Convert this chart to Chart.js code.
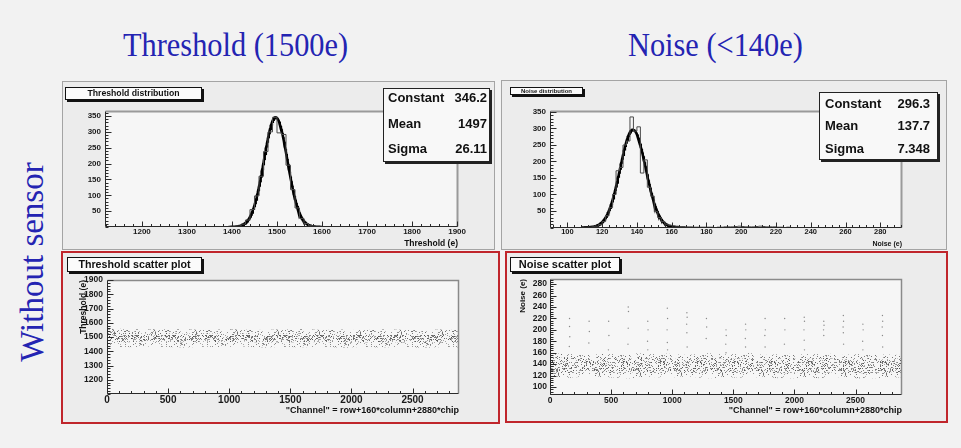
<!DOCTYPE html>
<html>
<head>
<meta charset="utf-8">
<script src="https://cdn.jsdelivr.net/npm/chart.js@4/dist/chart.umd.min.js"></script>
<style>
  html, body { margin: 0; padding: 0; }
  body { width: 961px; height: 448px; position: relative; overflow: hidden;
         background: #f2f2f2; font-family: "Liberation Sans", Arial, sans-serif; }
  .heading { position: absolute; font-family: "Liberation Serif", "Times New Roman", serif;
             color: #2424b2; font-size: 33px; line-height: 33px; white-space: nowrap;
             transform-origin: left top; transform: scaleX(0.92); }
  .side { position: absolute; left: 32px; top: 262px; font-family: "Liberation Serif", "Times New Roman", serif;
          color: #2424b2; font-size: 33px; line-height: 33px; white-space: nowrap;
          transform: translate(-50%, -50%) rotate(-90deg); }
  .panel { position: absolute; box-sizing: border-box; background: #ececec; }
  canvas { position: absolute; }
  .tag { position: absolute; box-sizing: border-box; background: #fbfbfb; border: 1px solid #111;
         box-shadow: 2px 2px 0 #111; font-weight: bold; text-align: center; color: #111; white-space: nowrap; }
  .stats { position: absolute; box-sizing: border-box; background: #f8f8f8; border: 1px solid #222;
           box-shadow: 2px 2px 0 #222; font-weight: bold; font-size: 13px; color: #111; }
  .stats div { position: absolute; left: 0; right: 0; height: 14px; line-height: 14px; }
  .stats span.v { position: absolute; }
</style>
</head>
<body>

<div class="heading" style="left:123px;top:29px">Threshold (1500e)</div>
<div class="heading" style="left:628px;top:29px">Noise (&lt;140e)</div>
<div class="side">Without sensor</div>

<div class="panel" style="left:62px;top:81px;width:433px;height:169px;border:1px solid #a4a4a4"></div>
<div class="panel" style="left:501px;top:80px;width:446px;height:170px;border:1px solid #a4a4a4"></div>
<div class="panel" style="left:61px;top:251px;width:439px;height:173px;border:2px solid #c0262c"></div>
<div class="panel" style="left:505px;top:251px;width:443px;height:172px;border:2px solid #c0262c"></div>

<canvas id="thrHist" width="420" height="168" style="left:62px;top:82px"></canvas>
<canvas id="noiseHist" width="444" height="168" style="left:503px;top:82px"></canvas>
<canvas id="thrScatter" width="436" height="168" style="left:63px;top:253px"></canvas>
<canvas id="noiseScatter" width="440" height="168" style="left:507px;top:253px"></canvas>

<div class="tag" style="left:65px;top:87px;width:137px;height:13px;font-size:8.7px;line-height:11px">Threshold distribution</div>
<div class="tag" style="left:510px;top:87px;width:73px;height:8px;font-size:6px;line-height:6px">Noise distribution</div>
<div class="tag" style="left:67px;top:257px;width:135px;height:15px;font-size:10.7px;line-height:13px">Threshold scatter plot</div>
<div class="tag" style="left:510px;top:257px;width:110px;height:15px;font-size:11px;line-height:13px">Noise scatter plot</div>

<div class="stats" id="thrStats" style="left:383px;top:88px;width:107px;height:74px"></div>
<div class="stats" id="noiseStats" style="left:819px;top:92px;width:119px;height:68px"></div>

<script>
// ---------- Threshold distribution (10 e bins starting at 1400 e) ----------
const thrBinStart = 1400;
const thrBinWidth = 10;
const thrCounts = [1, 3, 9, 22, 55, 98, 160, 238, 300, 346, 297, 292, 195, 118, 60, 27, 11, 4, 1, 1];
const thrConstant = 346.2;
const thrMean = 1497;
const thrSigma = 26.11;
const thrHistXTicks = [1200, 1300, 1400, 1500, 1600, 1700, 1800, 1900];
const histYTicks = [50, 100, 150, 200, 250, 300, 350];

// ---------- Noise distribution (2 e bins starting at 110 e) ----------
const noiseBinStart = 110;
const noiseBinWidth = 2;
const noiseCounts = [1, 1, 2, 4, 9, 18, 36, 60, 100, 172, 182, 250, 262, 335, 292, 305, 165, 205, 122, 95,
                     48, 30, 18, 10, 7, 5, 4, 3, 3, 2, 2, 1, 1, 1, 1, 1, 1, 0, 1, 1,
                     2, 2, 2, 3, 4, 3, 2, 2, 2, 3, 4, 3, 2, 2, 2, 1, 1, 0, 1, 0];
const noiseConstant = 296.3;
const noiseMean = 137.7;
const noiseSigma = 7.348;
const noiseHistXTicks = [100, 120, 140, 160, 180, 200, 220, 240, 260, 280];

// ---------- Scatter plots vs channel ----------
const channelTicks = [0, 500, 1000, 1500, 2000, 2500];
const channelNodes = [0, 160, 320, 480, 640, 800, 960, 1120, 1280, 1440, 1600, 1760, 1920, 2080, 2240, 2400, 2560, 2720, 2880];
const thrScatterYTicks = [1200, 1300, 1400, 1500, 1600, 1700, 1800, 1900];
// spread of the threshold values along the channels
const thrOuterHigh = [1556, 1558, 1552, 1556, 1554, 1550, 1555, 1552, 1549, 1554, 1556, 1550, 1552, 1548, 1554, 1551, 1547, 1553, 1549];
const thrOuterLow  = [1432, 1428, 1434, 1430, 1427, 1432, 1429, 1433, 1426, 1430, 1428, 1432, 1425, 1429, 1427, 1431, 1424, 1428, 1426];
const thrCoreHigh  = [1528, 1530, 1524, 1527, 1522, 1525, 1521, 1524, 1520, 1523, 1526, 1519, 1522, 1518, 1521, 1520, 1517, 1522, 1518];
const thrCoreLow   = [1468, 1464, 1470, 1466, 1462, 1467, 1463, 1468, 1460, 1465, 1462, 1466, 1459, 1463, 1461, 1464, 1458, 1462, 1460];

const noiseScatterYTicks = [100, 120, 140, 160, 180, 200, 220, 240, 260, 280];
const noiseOuterHigh = [158, 160, 156, 159, 157, 161, 158, 156, 159, 157, 160, 156, 158, 157, 159, 156, 158, 157, 156];
const noiseOuterLow  = [118, 116, 119, 117, 115, 118, 116, 119, 115, 117, 116, 118, 114, 117, 115, 118, 114, 116, 117];
const noiseCoreHigh  = [150, 152, 148, 151, 149, 152, 150, 148, 151, 149, 150, 148, 150, 149, 151, 148, 149, 148, 150];
const noiseCoreLow   = [127, 126, 128, 127, 125, 128, 126, 128, 125, 127, 126, 127, 124, 127, 125, 127, 124, 126, 126];
// noisy pixels standing out of the band (channel, noise)
const noiseOutlierChannel = [160, 160, 162, 158, 320, 322, 318, 480, 482, 478, 640, 642, 640, 638, 800, 802, 798, 800,
  960, 962, 958, 960, 962, 1120, 1122, 1118, 1120, 1122, 1280, 1282, 1278, 1440, 1442, 1438, 1440,
  1600, 1602, 1598, 1600, 1760, 1762, 1758, 1760, 1920, 1922, 1918, 2080, 2082, 2078, 2080, 2082,
  2240, 2242, 2238, 2240, 2400, 2402, 2398, 2400, 2402, 2560, 2562, 2558, 2560, 2720, 2722, 2718, 2720, 2722, 2878];
const noiseOutlierValue = [220, 206, 188, 171, 215, 197, 177, 215, 190, 165, 240, 232, 203, 175, 215, 200, 180, 165,
  238, 220, 200, 178, 165, 230, 222, 210, 195, 170, 220, 205, 185, 200, 190, 175, 160,
  210, 200, 185, 170, 220, 200, 190, 170, 220, 200, 175, 222, 215, 200, 182, 165,
  215, 208, 200, 190, 225, 215, 205, 195, 175, 210, 200, 180, 165, 225, 215, 205, 190, 170, 210];

// ---------- stat boxes ----------
function fillStats(id, rows, tops, leftPad, rightPad) {
  const box = document.getElementById(id);
  rows.forEach((r, i) => {
    const d = document.createElement('div');
    d.style.top = tops[i] + 'px';
    d.innerHTML = '<span style="position:absolute;left:' + leftPad + 'px">' + r[0] + '</span>' +
                  '<span class="v" style="right:' + rightPad + 'px">' + r[1] + '</span>';
    box.appendChild(d);
  });
}
fillStats('thrStats', [['Constant', thrConstant], ['Mean', thrMean], ['Sigma', thrSigma]], [2, 28, 53], 4, 2);
fillStats('noiseStats', [['Constant', noiseConstant], ['Mean', noiseMean], ['Sigma', noiseSigma]], [4, 26, 49], 5, 7);

// ---------- helpers ----------
function histSteps(start, width, counts) {
  const pts = [{ x: start, y: 0 }];
  counts.forEach((c, i) => pts.push({ x: start + i * width, y: c }));
  pts.push({ x: start + counts.length * width, y: 0 });
  return pts;
}
// fitted gaussian drawn from the fit parameters
function gaussCurve(c, m, s, step) {
  const pts = [];
  for (let x = m - 4 * s; x <= m + 4 * s + 1e-9; x += step) {
    pts.push({ x: x, y: c * Math.exp(-0.5 * ((x - m) / s) * ((x - m) / s)) });
  }
  return pts;
}
function band(xs, ys) { return xs.map((x, i) => ({ x: x, y: ys[i] })); }

// grainy fill used for the dense clouds of scatter points
function grain(size, cover, rgb, alpha) {
  const c = document.createElement('canvas');
  c.width = c.height = size;
  const g = c.getContext('2d');
  const img = g.createImageData(size, size);
  for (let yy = 0; yy < size; yy++) {
    for (let xx = 0; xx < size; xx++) {
      let h = Math.imul(xx + 1, 374761393) ^ Math.imul(yy + 7, 668265263);
      h = Math.imul(h ^ (h >>> 13), 1274126177);
      h = (h ^ (h >>> 16)) >>> 0;
      if ((h % 1000) / 1000 < cover) {
        const k = (yy * size + xx) * 4;
        img.data[k] = rgb[0]; img.data[k + 1] = rgb[1]; img.data[k + 2] = rgb[2];
        img.data[k + 3] = Math.round(255 * alpha * (0.45 + 0.55 * ((h >>> 10) % 100) / 100));
      }
    }
  }
  g.putImageData(img, 0, 0);
  return g.createPattern(c, 'repeat');
}

// ROOT-like frame with inward ticks
const rootAxes = {
  id: 'rootAxes',
  beforeDatasetsDraw(chart, args, o) {
    const { ctx, chartArea: a } = chart;
    ctx.save();
    ctx.fillStyle = o.fill;
    ctx.fillRect(a.left, a.top, a.right - a.left, a.bottom - a.top);
    ctx.restore();
  },
  afterDraw(chart, args, o) {
    const { ctx, chartArea: a, scales: { x, y } } = chart;
    const L = Math.round(a.left) + 0.5, R = Math.round(a.right) - 0.5;
    const T = Math.round(a.top) + 0.5, B = Math.round(a.bottom) - 0.5;
    ctx.save();
    ctx.strokeStyle = o.frameColor;
    ctx.lineWidth = o.frameWidth;
    ctx.beginPath();
    ctx.moveTo(L, T); ctx.lineTo(R, T); ctx.lineTo(R, B);
    ctx.stroke();
    ctx.strokeStyle = '#2a2a2a';
    ctx.lineWidth = 1;
    ctx.beginPath();
    ctx.moveTo(L, T); ctx.lineTo(L, B); ctx.lineTo(R, B);
    const x0 = Math.ceil(x.min / o.xMinor);
    for (let k = x0; k * o.xMinor <= x.max; k++) {
      const v = k * o.xMinor;
      const px = Math.round(x.getPixelForValue(v)) + 0.5;
      const len = o.xMajor.includes(v) ? o.xMajorLen : o.xMinorLen;
      ctx.moveTo(px, B); ctx.lineTo(px, B - len);
    }
    const y0 = Math.ceil(y.min / o.yMinor);
    for (let k = y0; k * o.yMinor <= y.max; k++) {
      const v = k * o.yMinor;
      const py = Math.round(y.getPixelForValue(v)) + 0.5;
      const len = o.yMajor.includes(v) ? o.yMajorLen : o.yMinorLen;
      ctx.moveTo(L, py); ctx.lineTo(L + len, py);
    }
    ctx.stroke();
    ctx.restore();
  }
};

function xAxis(p) {
  return {
    type: 'linear', position: 'bottom', min: p.min, max: p.max,
    afterBuildTicks: s => { s.ticks = p.ticks.map(v => ({ value: v })); },
    afterFit: s => { s.height = p.height; },
    grid: { display: false, drawTicks: false }, border: { display: false },
    ticks: { autoSkip: false, maxRotation: 0, minRotation: 0, padding: p.pad, color: '#1a1a1a',
             font: { family: 'Liberation Sans', weight: 'bold', size: p.size, lineHeight: 1 },
             callback: v => String(v) },
    title: { display: true, text: p.title, align: 'end', color: '#111',
             font: { family: 'Liberation Sans', weight: 'bold', size: p.titleSize, lineHeight: 1 },
             padding: { top: 0, bottom: p.titleBottom } }
  };
}
function yAxis(p) {
  const ax = {
    type: 'linear', position: 'left', min: p.min, max: p.max,
    afterBuildTicks: s => { s.ticks = p.ticks.map(v => ({ value: v })); },
    afterFit: s => { s.width = p.width; },
    grid: { display: false, drawTicks: false }, border: { display: false },
    ticks: { autoSkip: false, padding: p.pad, color: '#1a1a1a',
             font: { family: 'Liberation Sans', weight: 'bold', size: p.size, lineHeight: 1 },
             callback: v => String(v) },
    title: { display: false }
  };
  if (p.title) {
    ax.title = { display: true, text: p.title, align: 'end', color: '#111',
                 font: { family: 'Liberation Sans', weight: 'bold', size: p.titleSize, lineHeight: 1 },
                 padding: { top: p.titleOffset, bottom: 0 } };
  }
  return ax;
}

function baseOptions(padding, scales, ticksCfg) {
  return {
    responsive: false, animation: false, devicePixelRatio: 1,
    layout: { padding: padding },
    plugins: { legend: { display: false }, tooltip: { enabled: false }, title: { display: false },
               rootAxes: Object.assign({ fill: '#f6f6f6' }, ticksCfg) },
    scales: scales,
    elements: { point: { radius: 0 }, line: { tension: 0 } }
  };
}

// ---------- Threshold distribution ----------
new Chart(document.getElementById('thrHist'), {
  type: 'line',
  data: { datasets: [
    { data: histSteps(thrBinStart, thrBinWidth, thrCounts), stepped: true, borderColor: '#4a4a4a', borderWidth: 1, fill: false },
    { data: gaussCurve(thrConstant, thrMean, thrSigma, 1), borderColor: '#000', borderWidth: 2.6, fill: false }
  ] },
  options: baseOptions({ left: 0, right: 24, top: 29, bottom: 0 }, {
    x: xAxis({ min: 1118, max: 1902, ticks: thrHistXTicks, height: 23, pad: 1, size: 8,
               title: 'Threshold (e)', titleSize: 8.5, titleBottom: 2 }),
    y: yAxis({ min: 0, max: 366, ticks: histYTicks, width: 43, pad: 4, size: 8 })
  }, { frameColor: '#9a9a9a', frameWidth: 2, xMajor: thrHistXTicks, xMinor: 20, xMajorLen: 5, xMinorLen: 2.5,
       yMajor: histYTicks, yMinor: 10, yMajorLen: 6, yMinorLen: 3 }),
  plugins: [rootAxes]
});

// ---------- Noise distribution ----------
new Chart(document.getElementById('noiseHist'), {
  type: 'line',
  data: { datasets: [
    { data: histSteps(noiseBinStart, noiseBinWidth, noiseCounts), stepped: true, borderColor: '#4a4a4a', borderWidth: 1, fill: false },
    { data: gaussCurve(noiseConstant, noiseMean, noiseSigma, 0.25), borderColor: '#000', borderWidth: 2.6, fill: false }
  ] },
  options: baseOptions({ left: 0, right: 45, top: 29, bottom: 0 }, {
    x: xAxis({ min: 90, max: 292.5, ticks: noiseHistXTicks, height: 22.5, pad: 1, size: 7.5,
               title: 'Noise (e)', titleSize: 7, titleBottom: 2.5 }),
    y: yAxis({ min: 0, max: 353, ticks: histYTicks, width: 47, pad: 4, size: 8 })
  }, { frameColor: '#9a9a9a', frameWidth: 2, xMajor: noiseHistXTicks, xMinor: 4, xMajorLen: 5, xMinorLen: 2.5,
       yMajor: histYTicks, yMinor: 10, yMajorLen: 6, yMinorLen: 3 }),
  plugins: [rootAxes]
});

// ---------- scatter plots ----------
const sparseGrain = grain(41, 0.11, [70, 70, 70], 0.8);
const denseGrain = grain(37, 0.20, [45, 45, 45], 0.85);

new Chart(document.getElementById('thrScatter'), {
  type: 'line',
  data: { datasets: [
    { data: band(channelNodes, thrOuterHigh), borderWidth: 0, fill: false },
    { data: band(channelNodes, thrOuterLow), borderWidth: 0, fill: '-1', backgroundColor: sparseGrain },
    { data: band(channelNodes, thrCoreHigh), borderWidth: 0, fill: false },
    { data: band(channelNodes, thrCoreLow), borderWidth: 0, fill: '-1', backgroundColor: denseGrain }
  ] },
  options: baseOptions({ left: 0, right: 40, top: 27, bottom: 0 }, {
    x: xAxis({ min: 0, max: 2880, ticks: channelTicks, height: 27, pad: 1, size: 10,
               title: '"Channel" = row+160*column+2880*chip', titleSize: 9, titleBottom: 5.5 }),
    y: yAxis({ min: 1100, max: 1900, ticks: thrScatterYTicks, width: 44, pad: 4, size: 8.5,
               title: 'Threshold (e)', titleSize: 8.5, titleOffset: 16 })
  }, { frameColor: '#8a8a8a', frameWidth: 1.5, xMajor: channelTicks, xMinor: 100, xMajorLen: 5, xMinorLen: 2.5,
       yMajor: thrScatterYTicks, yMinor: 20, yMajorLen: 6, yMinorLen: 3 }),
  plugins: [rootAxes]
});

new Chart(document.getElementById('noiseScatter'), {
  type: 'line',
  data: { datasets: [
    { data: band(channelNodes, noiseOuterHigh), borderWidth: 0, fill: false },
    { data: band(channelNodes, noiseOuterLow), borderWidth: 0, fill: '-1', backgroundColor: sparseGrain },
    { data: band(channelNodes, noiseCoreHigh), borderWidth: 0, fill: false },
    { data: band(channelNodes, noiseCoreLow), borderWidth: 0, fill: '-1', backgroundColor: denseGrain },
    { data: noiseOutlierChannel.map((c, i) => ({ x: c, y: noiseOutlierValue[i] })), showLine: false,
      pointRadius: 0.7, pointBorderWidth: 0, pointBackgroundColor: '#8a8a8a' }
  ] },
  options: baseOptions({ left: 0, right: 45, top: 26, bottom: 0 }, {
    x: xAxis({ min: 0, max: 2880, ticks: channelTicks, height: 26, pad: 1, size: 8.5,
               title: '"Channel" = row+160*column+2880*chip', titleSize: 9, titleBottom: 5.5 }),
    y: yAxis({ min: 86, max: 289, ticks: noiseScatterYTicks, width: 43, pad: 3, size: 8.5,
               title: 'Noise (e)', titleSize: 8, titleOffset: 12 })
  }, { frameColor: '#8a8a8a', frameWidth: 1.5, xMajor: channelTicks, xMinor: 100, xMajorLen: 5, xMinorLen: 2.5,
       yMajor: noiseScatterYTicks, yMinor: 4, yMajorLen: 6, yMinorLen: 3 }),
  plugins: [rootAxes]
});
</script>
</body>
</html>
